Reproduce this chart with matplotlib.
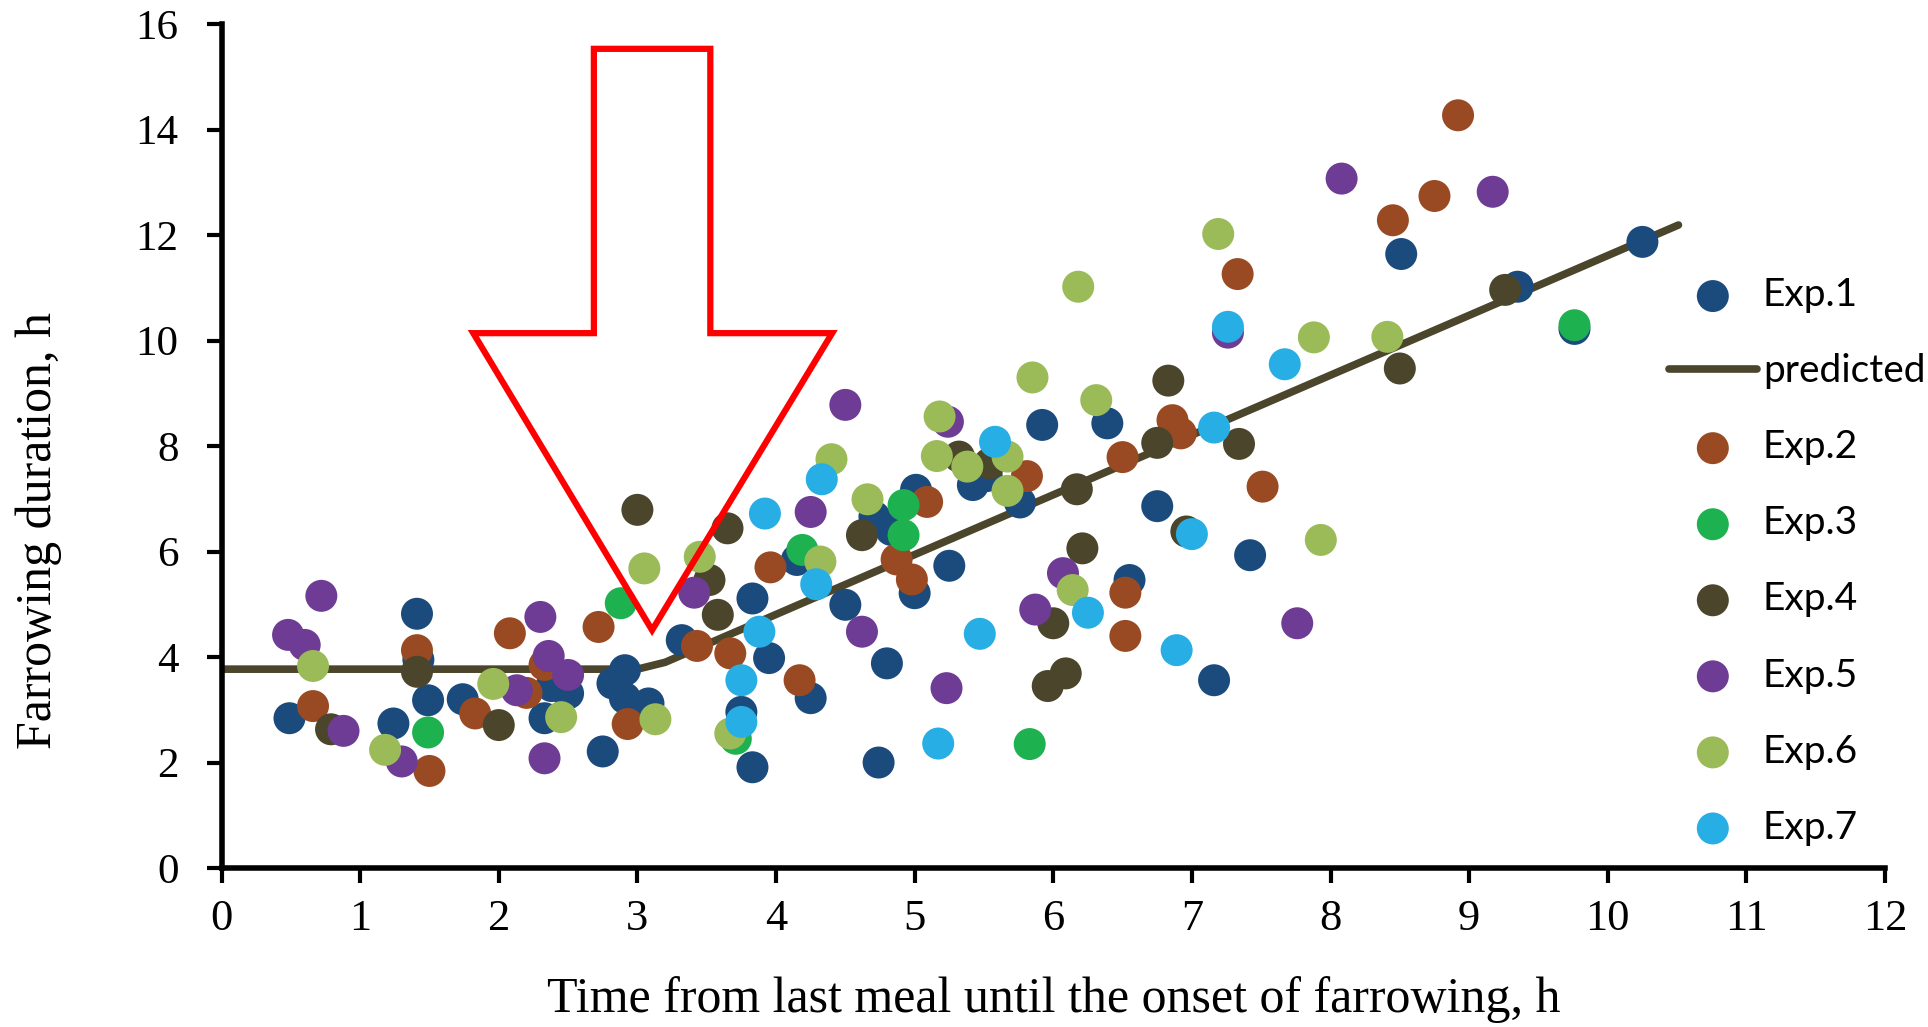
import matplotlib
matplotlib.use("Agg")
import matplotlib.pyplot as plt
from matplotlib.patches import Polygon

# values (x: h since last meal, y: farrowing duration h)
exp1_x = [0.49, 1.41, 1.42, 1.49, 1.24, 1.74, 2.50, 2.38, 2.33, 2.91, 2.82, 2.91, 3.08, 2.75, 3.32,
          5.42, 5.52, 5.76, 5.01, 4.71, 4.83, 4.15, 3.83, 3.95, 4.25, 3.75, 3.83, 4.50, 4.80, 4.74,
          5.00, 5.25, 6.55, 6.75, 7.16, 6.39, 5.92, 7.42, 8.51, 9.35, 10.25, 9.76]
exp1_y = [2.84, 4.82, 3.95, 3.18, 2.74, 3.20, 3.31, 3.45, 2.84, 3.75, 3.50, 3.22, 3.12, 2.21, 4.32,
          7.26, 7.43, 6.93, 7.17, 6.66, 6.41, 5.84, 5.11, 3.98, 3.22, 2.96, 1.91, 4.99, 3.88, 2.00,
          5.21, 5.73, 5.46, 6.86, 3.56, 8.43, 8.40, 5.93, 11.64, 11.02, 11.87, 10.22]

exp2_x = [0.66, 1.41, 1.50, 1.83, 2.20, 2.08, 2.33, 2.72, 2.93, 3.43, 3.67, 3.96, 4.17, 4.87,
          4.98, 5.09, 5.81, 6.50, 6.86, 6.92, 6.52, 6.52, 7.51, 7.33, 8.45, 8.75, 8.92]
exp2_y = [3.07, 4.13, 1.84, 2.93, 3.32, 4.45, 3.85, 4.57, 2.73, 4.21, 4.07, 5.70, 3.56, 5.85,
          5.47, 6.94, 7.43, 7.79, 8.49, 8.24, 5.22, 4.40, 7.23, 11.26, 12.28, 12.74, 14.27]

exp3_x = [1.49, 2.88, 3.71, 4.19, 4.92, 4.92, 5.83, 9.76]
exp3_y = [2.57, 5.02, 2.45, 6.03, 6.88, 6.31, 2.35, 10.29]

exp4_x = [0.79, 1.41, 2.00, 3.00, 3.52, 3.58, 3.65, 4.62, 5.32, 5.54, 6.17, 6.75, 6.83, 6.21,
          6.00, 6.09, 5.96, 6.96, 7.34, 8.50, 9.26]
exp4_y = [2.63, 3.72, 2.71, 6.79, 5.46, 4.80, 6.44, 6.31, 7.80, 7.67, 7.18, 8.06, 9.24, 6.06,
          4.64, 3.69, 3.45, 6.38, 8.04, 9.47, 10.96]

exp5_x = [0.72, 0.48, 0.60, 0.88, 1.30, 2.13, 2.30, 2.36, 2.50, 2.33, 3.41, 4.50, 5.24, 4.25,
          4.62, 5.23, 6.07, 5.87, 7.76, 7.26, 8.08, 9.17]
exp5_y = [5.16, 4.42, 4.23, 2.60, 2.02, 3.37, 4.76, 4.02, 3.66, 2.08, 5.22, 8.78, 8.46, 6.75,
          4.48, 3.41, 5.59, 4.90, 4.64, 10.15, 13.07, 12.82]

exp6_x = [0.66, 1.18, 1.96, 2.45, 3.05, 3.13, 3.45, 3.67, 4.40, 4.66, 4.32, 5.85, 6.31, 5.18,
          5.16, 5.38, 5.67, 5.67, 6.14, 7.93, 7.19, 6.18, 7.88, 8.41]
exp6_y = [3.83, 2.24, 3.49, 2.86, 5.68, 2.82, 5.90, 2.55, 7.75, 6.99, 5.81, 9.30, 8.87, 8.56,
          7.81, 7.61, 7.80, 7.15, 5.27, 6.22, 12.02, 11.02, 10.06, 10.07]

exp7_x = [3.88, 3.75, 3.75, 3.92, 4.33, 4.29, 5.58, 5.17, 5.47, 6.25, 7.00, 6.89, 7.16, 7.67, 7.26]
exp7_y = [4.48, 3.56, 2.77, 6.72, 7.37, 5.38, 8.08, 2.36, 4.44, 4.84, 6.33, 4.13, 8.35, 9.55, 10.26]

pred_x = [0, 3.0, 3.2, 10.51]
pred_y = [3.77, 3.77, 3.90, 12.19]

# red arrow outline (data coords)
arrow_x = [2.686, 3.526, 3.526, 4.405, 3.106, 1.816, 2.686]
arrow_y = [15.53, 15.53, 10.14, 10.14, 4.51, 10.14, 10.14]

series = [
    ("Exp.1", exp1_x, exp1_y, "#1b4a7d"),
    ("Exp.2", exp2_x, exp2_y, "#9a4a22"),
    ("Exp.3", exp3_x, exp3_y, "#1db14f"),
    ("Exp.4", exp4_x, exp4_y, "#4b452c"),
    ("Exp.5", exp5_x, exp5_y, "#6e3b95"),
    ("Exp.6", exp6_x, exp6_y, "#9bbb59"),
    ("Exp.7", exp7_x, exp7_y, "#27aee4"),
]

fig = plt.figure(figsize=(19.28, 10.27), dpi=100)
ax = fig.add_axes([0.1149, 0.1548, 0.8628, 0.8218])

handles = {}
for name, xs, ys, col in series:
    handles[name] = ax.scatter(xs, ys, s=530, color=col, edgecolors="none", zorder=3, label=name)

line, = ax.plot(pred_x, pred_y, color="#4b452c", lw=5.5, solid_capstyle="round",
                zorder=2, label="predicted")

arrow = Polygon(list(zip(arrow_x, arrow_y)), closed=True, fill=False, edgecolor="#ff0000",
                lw=4.5, joinstyle="miter", zorder=6, clip_on=False)
ax.add_patch(arrow)

ax.set_xlim(0, 12)
ax.set_ylim(0, 16)
ax.set_xticks(range(0, 13))
ax.set_yticks(range(0, 17, 2))
for sp in ["top", "right"]:
    ax.spines[sp].set_visible(False)
for sp in ["left", "bottom"]:
    ax.spines[sp].set_linewidth(4)

serif = "Liberation Serif"
ax.tick_params(axis="both", direction="out", length=11, width=3, labelsize=31)
ax.tick_params(axis="x", pad=11, labelsize=32)
ax.tick_params(axis="y", pad=20)
for lab in ax.get_xticklabels() + ax.get_yticklabels():
    lab.set_fontfamily(serif)

ax.set_xlabel("Time from last meal until the onset of farrowing, h", fontsize=36, fontfamily=serif)
ax.set_ylabel("Farrowing duration, h", fontsize=36, fontfamily=serif)
ax.xaxis.set_label_coords(0.5, -0.128)
ax.yaxis.set_label_coords(-0.096, 0.40)

order = ["Exp.1", "predicted", "Exp.2", "Exp.3", "Exp.4", "Exp.5", "Exp.6", "Exp.7"]
hl = [line if n == "predicted" else handles[n] for n in order]
leg = fig.legend(hl, order, loc="center left", bbox_to_anchor=(0.8657, 0.4533),
                 frameon=False, scatterpoints=1, borderpad=0, borderaxespad=0,
                 handlelength=2.25, handletextpad=0.16, labelspacing=1.03,
                 prop={"family": "Lato", "size": 28})

fig.savefig("out.png", dpi=100)
